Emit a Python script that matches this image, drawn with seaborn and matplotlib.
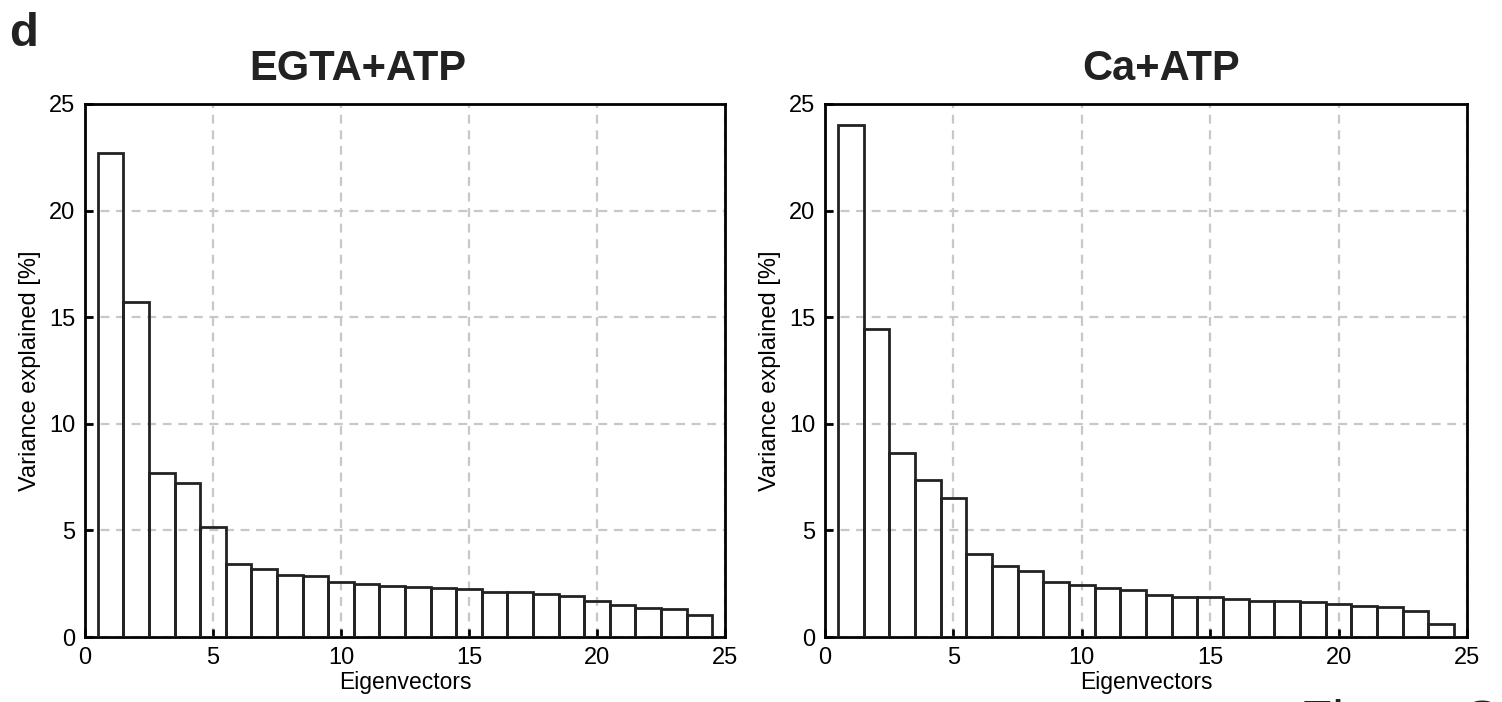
import numpy as np
import pandas as pd
import matplotlib
matplotlib.use("Agg")
import matplotlib.pyplot as plt
import seaborn as sns

# ---- data ----
eigenvectors = list(range(1, 25))
egta_atp = [22.7, 15.7, 7.70, 7.20, 5.14, 3.42, 3.17, 2.91, 2.85, 2.57, 2.47, 2.38,
            2.35, 2.31, 2.25, 2.11, 2.10, 2.00, 1.92, 1.69, 1.50, 1.34, 1.31, 1.03]
ca_atp = [24.0, 14.43, 8.65, 7.36, 6.52, 3.90, 3.33, 3.08, 2.56, 2.42, 2.28, 2.22,
          1.97, 1.89, 1.86, 1.78, 1.70, 1.67, 1.62, 1.55, 1.47, 1.42, 1.22, 0.59]
titles = ["EGTA+ATP", "Ca+ATP"]
ticks = [0, 5, 10, 15, 20, 25]

sns.set_theme(style="white")
plt.rcParams['font.family'] = ['Liberation Sans', 'DejaVu Sans']

fig = plt.figure(figsize=(15.02, 7.02), dpi=100)
ax_pos = [[85/1502, 1-637/702, 640/1502, 533/702],
          [825/1502, 1-637/702, 642/1502, 533/702]]
title_x = [358/1502, 1161/1502]

for i, (vals, title) in enumerate(zip([egta_atp, ca_atp], titles)):
    ax = fig.add_axes(ax_pos[i])
    df = pd.DataFrame({"ev": eigenvectors, "var": vals})
    sns.barplot(data=df, x="ev", y="var", native_scale=True, width=1.0,
                fill=False, color="#222222", linewidth=2.0, ax=ax, zorder=3)
    ax.set_xlim(0, 25)
    ax.set_ylim(0, 25)
    ax.set_xticks(ticks)
    ax.set_yticks(ticks)
    ax.set_xticklabels([str(t) for t in ticks])
    ax.set_yticklabels([str(t) for t in ticks])
    ax.grid(True, which="major", color="#c8c8c8", linestyle=(0, (4, 3)), linewidth=1.6, zorder=0)
    ax.set_axisbelow(True)
    for s in ax.spines.values():
        s.set_color("black")
        s.set_linewidth(2.0)
        s.set_visible(True)
    ax.tick_params(axis="both", which="major", direction="in", length=6, width=2.0,
                   color="black", labelsize=17, labelcolor="black",
                   left=True, bottom=True, top=False, right=False, pad=7)
    ax.set_xlabel("Eigenvectors", fontsize=16.5, color="black", labelpad=2)
    ax.set_ylabel("Variance explained [%]", fontsize=17, color="black", labelpad=6)
    fig.text(title_x[i], 1-80/702, title, ha="center", va="baseline",
             fontsize=30, fontweight="bold", color="#222222")

fig.text(9/1502, 1-46/702, "d", ha="left", va="baseline", fontsize=34,
         fontweight="bold", color="#222222")
fig.text(1300/1502, 1-738/702, "Figure S", ha="left", va="baseline", fontsize=38,
         color="#222222")

fig.savefig("out.png", dpi=100)
